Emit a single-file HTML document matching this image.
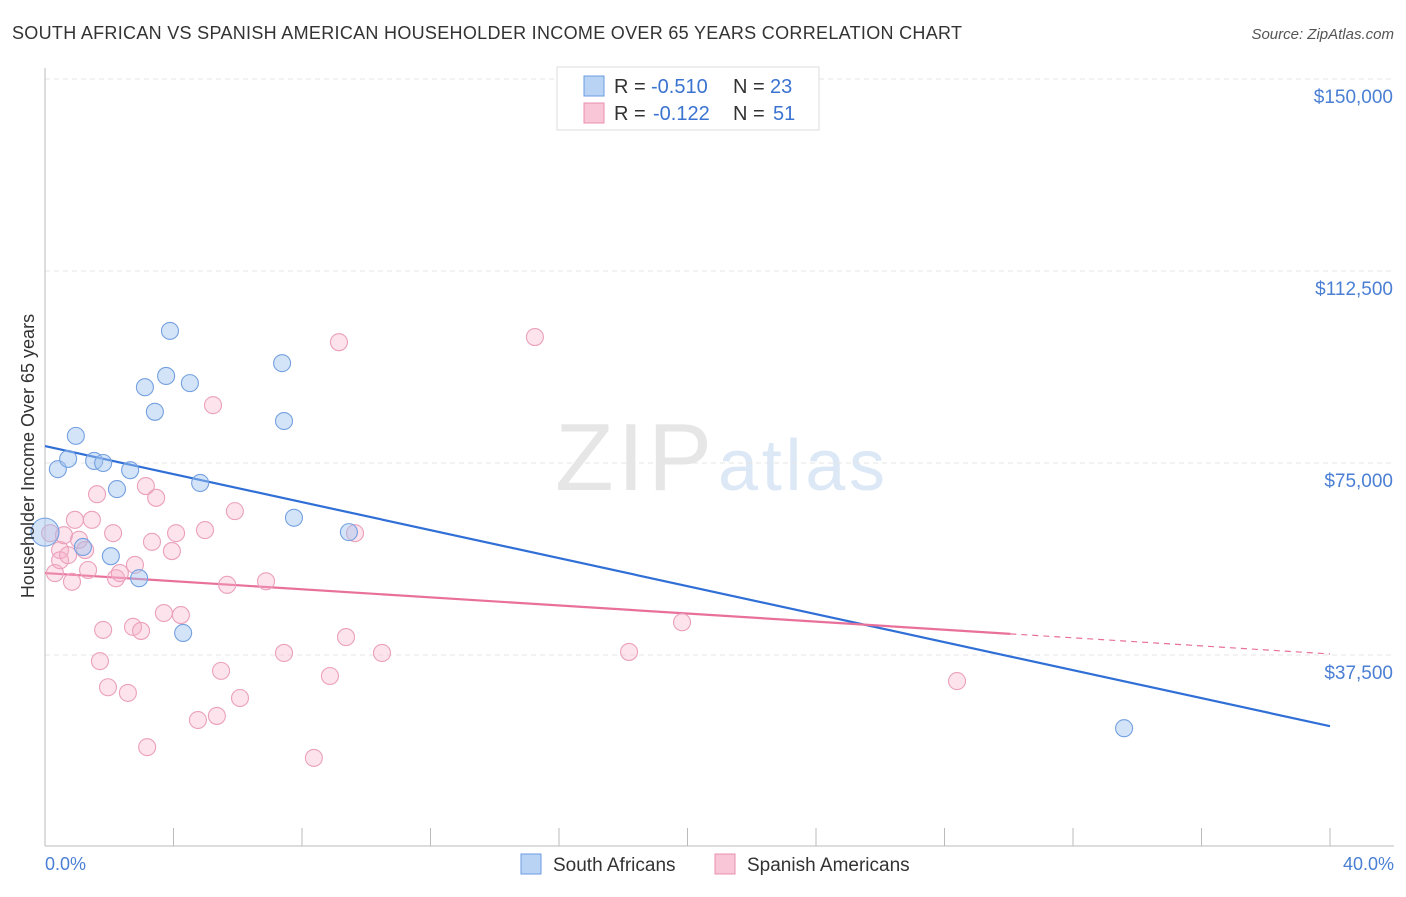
<!DOCTYPE html>
<html><head><meta charset="utf-8"><style>
body{margin:0;background:#fff;font-family:"Liberation Sans",sans-serif}
svg text{font-family:"Liberation Sans",sans-serif}
</style></head><body>
<svg id="chart" width="1406" height="892">
<text x="12" y="39" font-size="18" fill="#333" textLength="950">SOUTH AFRICAN VS SPANISH AMERICAN HOUSEHOLDER INCOME OVER 65 YEARS CORRELATION CHART</text>
<text x="1394" y="39" font-size="15" fill="#555" font-style="italic" text-anchor="end">Source: ZipAtlas.com</text>
<text x="555" y="490" font-size="96" fill="#e6e6e6" textLength="157" font-family="Liberation Serif">ZIP</text>
<text x="718" y="490" font-size="72" fill="#dce8f6" textLength="167">atlas</text>
<g id="grid"></g><g id="axes"></g><g id="trend"></g><g id="pts"></g>
<text transform="translate(34,456) rotate(-90)" font-size="18" fill="#333" text-anchor="middle">Householder Income Over 65 years</text>
<text x="45" y="870" font-size="18" fill="#4a7fd4">0.0%</text>
<text x="1394" y="870" font-size="18" fill="#4a7fd4" text-anchor="end">40.0%</text>
<g>
<rect x="557" y="67" width="262" height="63" fill="#fff" stroke="#ddd"/>
<rect x="584" y="76" width="20" height="20" fill="#b9d3f4" stroke="#6a9be0"/>
<rect x="584" y="103" width="20" height="20" fill="#f8c6d6" stroke="#e890b0"/>
<text x="614" y="93" font-size="20" fill="#333">R =</text>
<text x="651" y="93" font-size="20" fill="#3b73d0">-0.510</text>
<text x="733" y="93" font-size="20" fill="#333">N =</text>
<text x="770" y="93" font-size="20" fill="#3b73d0">23</text>
<text x="614" y="120" font-size="20" fill="#333">R =</text>
<text x="653" y="120" font-size="20" fill="#3b73d0">-0.122</text>
<text x="733" y="120" font-size="20" fill="#333">N =</text>
<text x="773" y="120" font-size="20" fill="#3b73d0">51</text>
</g>
<g>
<rect x="521" y="854" width="20" height="20" fill="#b9d3f4" stroke="#6a9be0"/>
<text x="553" y="871" font-size="19" fill="#333">South Africans</text>
<rect x="715" y="854" width="20" height="20" fill="#f8c6d6" stroke="#e890b0"/>
<text x="747" y="871" font-size="19" fill="#333">Spanish Americans</text>
</g>
</svg>
<script>
const yTicks=[37500,75000,112500,150000];
const yTickLabels=["$37,500","$75,000","$112,500","$150,000"];
const blueX=[0,0.40,0.72,0.96,1.53,1.81,2.65,2.24,2.05,1.18,2.93,3.11,3.42,3.89,3.77,4.51,4.30,4.83,7.38,7.44,7.75,9.46,33.59];
const blueY=[61500,73800,75800,80300,75400,75000,73600,69900,56800,58600,52500,89800,85000,100800,92000,90600,41800,71100,94500,83200,64300,61500,23200];
const pinkX=[0.16,0.31,0.47,0.59,0.84,0.93,1.06,1.25,1.34,1.46,1.62,1.71,1.81,1.96,2.12,2.21,2.33,2.58,2.74,2.80,2.99,3.14,3.18,3.33,3.46,3.70,3.95,4.08,4.23,4.76,4.98,5.23,5.35,5.48,5.67,5.91,6.07,6.88,7.44,8.37,8.87,9.15,9.37,9.65,10.49,15.25,18.18,19.83,28.39,0.47,0.72];
const pinkY=[61300,53500,58000,60900,51800,63900,60000,58000,54100,63900,68900,36300,42400,31200,61300,52500,53500,30100,43000,55100,42200,70500,19500,59600,68200,45700,57800,61300,45300,24800,61900,86300,25600,34400,51200,65600,29100,51900,37900,17400,33400,98600,41000,61300,37900,99600,38100,43900,32400,56000,57000];
const blueTrend=[78300,23600];
const pinkTrend=[53500,37700];
const pinkSolidEnd=30.05;
const NS="http://www.w3.org/2000/svg";
const X=v=>45+v/40*1285;
const Y=v=>847-v/37500*192;
function mk(p,t,a){const e=document.createElementNS(NS,t);for(const k in a)e.setAttribute(k,a[k]);p.appendChild(e);return e;}
const grid=document.getElementById('grid'),axes=document.getElementById('axes'),trend=document.getElementById('trend'),pts=document.getElementById('pts');
yTicks.forEach((t,i)=>{
 let l=mk(grid,'line',{x1:45,x2:1394,y1:Y(t),y2:Y(t),stroke:'#e6e6e6','stroke-dasharray':'5,4'});
 
 
 let tx=mk(grid,'text',{x:1393,y:Y(t)+24,'font-size':19,fill:'#4a7fd4','text-anchor':'end'});
 tx.textContent=yTickLabels[i];
 
 
});
let ya=mk(axes,'line',{x1:45,x2:45,y1:68,y2:846,stroke:'#bbb'});


let xa=mk(axes,'line',{x1:45,x2:1394,y1:846,y2:846,stroke:'#bbb'});


for(let p=0;p<=40;p+=4){let t=mk(axes,'line',{x1:X(p),x2:X(p),y1:828,y2:846,stroke:'#bbb'});
 
 }
function dot(x,y,fill,stroke,r,name){let c=mk(pts,'circle',{cx:X(x),cy:Y(y),r:r,fill:fill,stroke:stroke,'stroke-width':1.1});
 
 }
pinkX.forEach((x,i)=>dot(x,pinkY[i],'rgba(245,175,200,0.35)','#eba0bb',8.5,'spanish-american-point'));
blueX.forEach((x,i)=>dot(x,blueY[i],'rgba(160,195,240,0.45)','#74a0e0',i===0?14:8.5,'south-african-point'));
let bl=mk(trend,'line',{x1:X(0),y1:Y(blueTrend[0]),x2:X(40),y2:Y(blueTrend[1]),stroke:'#2f6fd6','stroke-width':2.2});


const pAt=x=>pinkTrend[0]+(pinkTrend[1]-pinkTrend[0])*x/40;
let pl=mk(trend,'line',{x1:X(0),y1:Y(pinkTrend[0]),x2:X(pinkSolidEnd),y2:Y(pAt(pinkSolidEnd)),stroke:'#e8709a','stroke-width':2.2});


let pd=mk(trend,'line',{x1:X(pinkSolidEnd),y1:Y(pAt(pinkSolidEnd)),x2:X(40),y2:Y(pinkTrend[1]),stroke:'#e8709a','stroke-width':1.2,'stroke-dasharray':'6,5'});


</script>
</body></html>
